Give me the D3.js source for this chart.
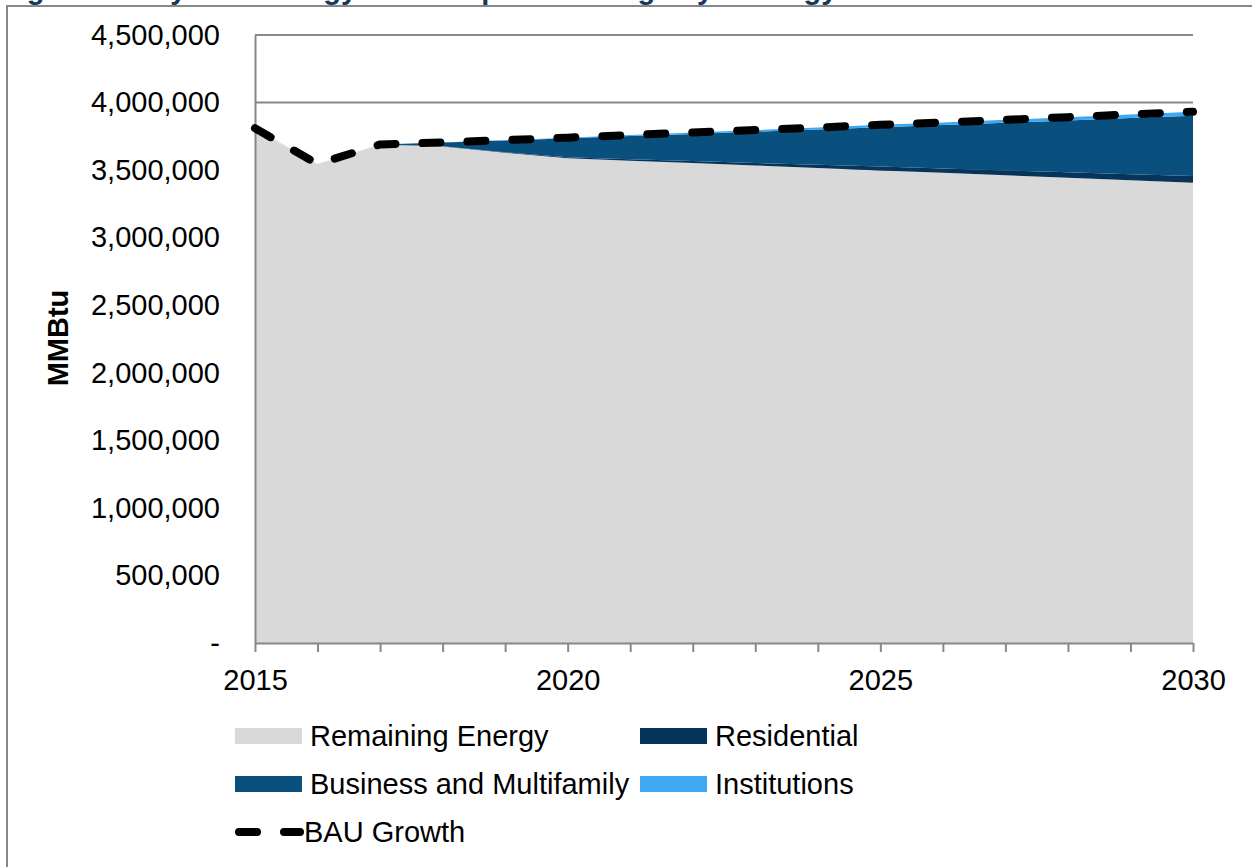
<!DOCTYPE html>
<html>
<head>
<meta charset="utf-8">
<script src="https://cdn.jsdelivr.net/npm/d3@7"></script>
<style>
  html, body { margin: 0; padding: 0; background: #ffffff; }
  svg { display: block; }
  text { font-family: Arial, "Liberation Sans", sans-serif; fill: #000; }
</style>
</head>
<body>
<svg id="chart" width="1252" height="867"></svg>
<script>
// Annual energy use (MMBtu), 2015-2030
const years = [2015, 2016, 2017, 2018, 2019, 2020, 2021, 2022, 2023, 2024, 2025, 2026, 2027, 2028, 2029, 2030];

const remainingEnergy = [3810000, 3545000, 3690000, 3674000, 3628000, 3588000, 3570000, 3552000, 3534000, 3516000, 3498000, 3480000, 3462000, 3444000, 3425000, 3407000];
const residential     = [0, 0, 0, 2000, 4000, 7000, 11000, 15000, 19000, 23000, 28000, 32000, 36000, 40000, 45000, 49000];
const business        = [0, 0, 0, 28000, 87000, 140000, 172000, 201000, 232000, 261000, 292000, 321000, 352000, 383000, 415000, 446000];
const institutions    = [0, 0, 0, 1000, 3000, 5000, 7000, 10000, 12000, 15000, 17000, 20000, 22000, 25000, 27000, 30000];
const bauGrowth       = [3810000, 3545000, 3690000, 3705000, 3722000, 3740000, 3760000, 3778000, 3797000, 3815000, 3835000, 3853000, 3872000, 3892000, 3912000, 3932000];

const yTicks = [0, 500000, 1000000, 1500000, 2000000, 2500000, 3000000, 3500000, 4000000, 4500000];
const xLabelYears = [2015, 2020, 2025, 2030];

const seriesNames  = ["Remaining Energy", "Residential", "Business and Multifamily", "Institutions"];
const seriesColors = ["#d9d9d9", "#06345a", "#09507e", "#3ea8f2"];

const FONT = "Arial, 'Liberation Sans', sans-serif";
const svg = d3.select("#chart");

// Title and outer frame
svg.append("text")
  .attr("x", 1).attr("y", -1)
  .style("font-weight", "bold").style("font-size", "29px").style("fill", "#17375e")
  .text("Figure 3: Citywide Energy Consumption Savings by Strategy");

svg.append("path")
  .attr("d", "M7,880 V6 H1260")
  .attr("fill", "none").attr("stroke", "#888888").attr("stroke-width", 2);

const plot = { left: 255, right: 1193, top: 35, bottom: 643 };

const x = d3.scaleLinear().domain([2015, 2030]).range([plot.left, plot.right]);
const y = d3.scaleLinear().domain([0, 4500000]).range([plot.bottom, plot.top]);

// Horizontal gridlines
svg.append("g").selectAll("line")
  .data(yTicks.filter(d => d > 0))
  .join("line")
  .attr("x1", plot.left).attr("x2", plot.right)
  .attr("y1", d => y(d)).attr("y2", d => y(d))
  .attr("stroke", "#888888").attr("stroke-width", 2);

// Stacked areas
const table = years.map((yr, i) => ({
  year: yr,
  "Remaining Energy": remainingEnergy[i],
  "Residential": residential[i],
  "Business and Multifamily": business[i],
  "Institutions": institutions[i]
}));
const stacked = d3.stack().keys(seriesNames)(table);
const area = d3.area()
  .x(d => x(d.data.year))
  .y0(d => y(d[0]))
  .y1(d => y(d[1]));

svg.append("g").selectAll("path")
  .data(stacked)
  .join("path")
  .attr("d", area)
  .attr("fill", (d, i) => seriesColors[i]);

// Y axis
const yAxis = svg.append("g").attr("transform", `translate(${plot.left},0)`)
  .call(d3.axisLeft(y).tickValues(yTicks).tickSize(0).tickPadding(35)
    .tickFormat(d => d === 0 ? "-" : d3.format(",")(d)));
yAxis.select(".domain").attr("stroke", "#888888").attr("stroke-width", 2);
yAxis.selectAll("text").style("font-size", "29px").style("font-family", FONT);

// X axis
const xAxis = svg.append("g").attr("transform", `translate(0,${plot.bottom})`)
  .call(d3.axisBottom(x).tickValues(years).tickSizeInner(9).tickSizeOuter(0).tickPadding(17)
    .tickFormat(d => xLabelYears.includes(d) ? String(d) : ""));
xAxis.select(".domain").attr("stroke", "#888888").attr("stroke-width", 2);
xAxis.selectAll(".tick line").attr("stroke", "#888888").attr("stroke-width", 2);
xAxis.selectAll("text").style("font-size", "29px").style("font-family", FONT);

// BAU growth line
const line = d3.line().x((d, i) => x(years[i])).y(d => y(d));
const dash = "18,27";
svg.append("path")
  .datum(bauGrowth)
  .attr("d", line)
  .attr("fill", "none")
  .attr("stroke", "#000").attr("stroke-width", 8)
  .attr("stroke-linecap", "round").attr("stroke-linejoin", "round")
  .attr("stroke-dasharray", dash);

// Y axis title
svg.append("text")
  .attr("transform", "translate(68,338) rotate(-90)")
  .attr("text-anchor", "middle")
  .style("font-weight", "bold").style("font-size", "29px")
  .text("MMBtu");

// Legend
const legendItems = [
  { name: "Remaining Energy", color: seriesColors[0], col: 0, row: 0 },
  { name: "Residential", color: seriesColors[1], col: 1, row: 0 },
  { name: "Business and Multifamily", color: seriesColors[2], col: 0, row: 1 },
  { name: "Institutions", color: seriesColors[3], col: 1, row: 1 }
];
const colX = [235, 640];
const rowY = [736, 784, 832];
const legend = svg.append("g");
legendItems.forEach(it => {
  legend.append("rect")
    .attr("x", colX[it.col]).attr("y", rowY[it.row] - 8)
    .attr("width", 67).attr("height", 16)
    .attr("fill", it.color);
  legend.append("text")
    .attr("x", colX[it.col] + 75).attr("y", rowY[it.row])
    .attr("dy", "0.35em")
    .style("font-size", "29px")
    .text(it.name);
});
legend.append("line")
  .attr("x1", 239).attr("x2", 300)
  .attr("y1", rowY[2]).attr("y2", rowY[2])
  .attr("stroke", "#000").attr("stroke-width", 8)
  .attr("stroke-linecap", "round")
  .attr("stroke-dasharray", dash);
legend.append("text")
  .attr("x", 304).attr("y", rowY[2]).attr("dy", "0.35em")
  .style("font-size", "29px")
  .text("BAU Growth");
</script>
</body>
</html>
